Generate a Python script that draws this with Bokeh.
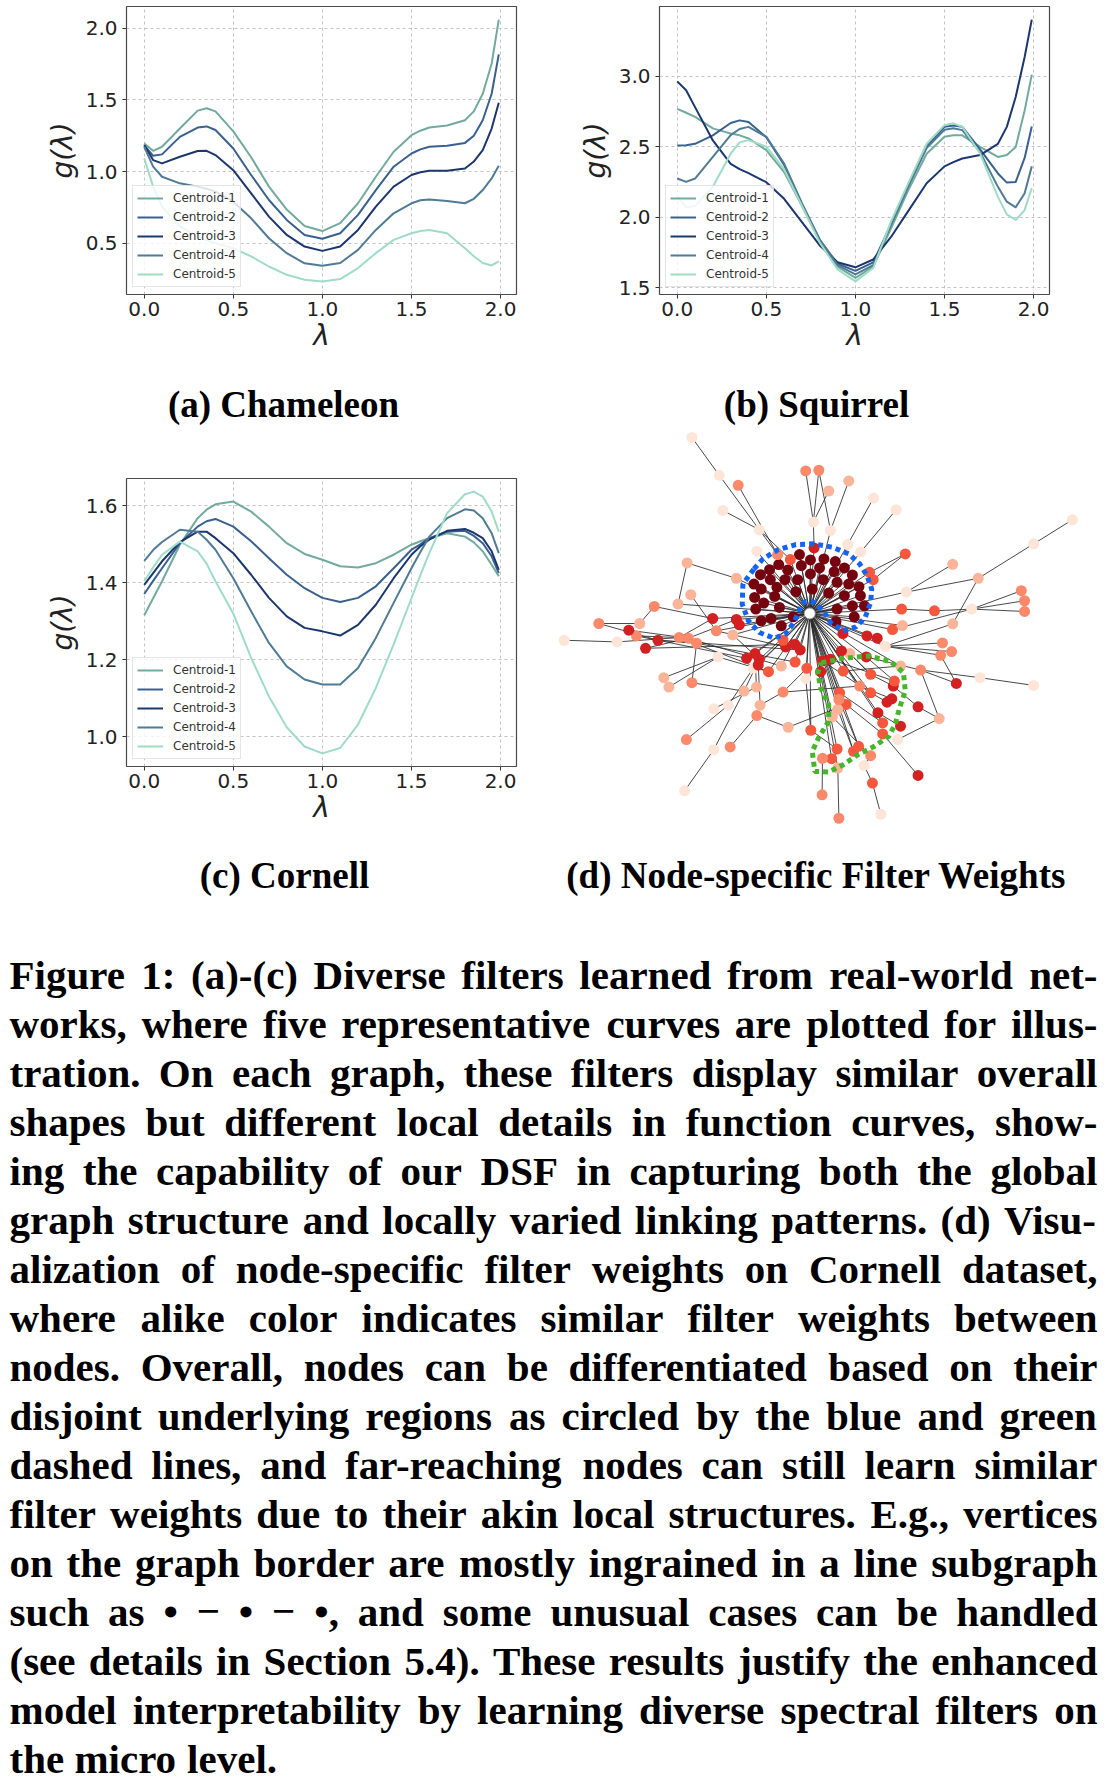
import numpy as np
from bokeh.plotting import figure
from bokeh.models import (Range1d, FixedTicker, PrintfTickFormatter, Legend,
                          LegendItem, ColumnDataSource)
from bokeh.layouts import column, row
from bokeh.core.properties import value
from bokeh.transform import linear_cmap
from bokeh.palettes import Reds256
from bokeh.embed import file_html
from bokeh.resources import INLINE

# ---------------- data: filter curves ----------------
LAM = [0, 0.05, 0.1, 0.2, 0.3, 0.35, 0.4, 0.5, 0.6, 0.7, 0.8, 0.9, 1.0, 1.1, 1.2,
       1.3, 1.4, 1.5, 1.55, 1.6, 1.7, 1.8, 1.85, 1.9, 1.95, 1.99]
LABELS = ["Centroid-1", "Centroid-2", "Centroid-3", "Centroid-4", "Centroid-5"]
COLORS = ["#72aa9e", "#38618f", "#1c3670", "#4f7b95", "#9edcc5"]

A_C1 = [1.196, 1.145, 1.173, 1.30, 1.425, 1.442, 1.420, 1.280, 1.100, 0.895, 0.735, 0.620, 0.585,
        0.640, 0.779, 0.964, 1.138, 1.254, 1.285, 1.307, 1.321, 1.358, 1.42, 1.543, 1.752, 2.06]
A_C2 = [1.184, 1.11, 1.12, 1.242, 1.307, 1.315, 1.29, 1.161, 0.976, 0.802, 0.663, 0.558, 0.531,
        0.57, 0.698, 0.871, 1.034, 1.126, 1.155, 1.173, 1.18, 1.20, 1.25, 1.358, 1.543, 1.817]
A_C3 = [1.184, 1.08, 1.057, 1.103, 1.143, 1.145, 1.115, 1.01, 0.848, 0.686, 0.558, 0.477, 0.447,
        0.477, 0.593, 0.756, 0.895, 0.976, 0.995, 1.006, 1.006, 1.022, 1.07, 1.15, 1.30, 1.48]
A_C4 = [1.173, 1.034, 0.964, 0.918, 0.895, 0.88, 0.86, 0.79, 0.674, 0.535, 0.431, 0.36, 0.343,
        0.362, 0.454, 0.593, 0.709, 0.779, 0.80, 0.806, 0.795, 0.779, 0.81, 0.871, 0.952, 1.04]
A_C5 = [1.092, 0.895, 0.755, 0.617, 0.547, 0.52, 0.50, 0.466, 0.408, 0.338, 0.28, 0.246, 0.234,
        0.25, 0.327, 0.431, 0.524, 0.57, 0.585, 0.593, 0.57, 0.466, 0.41, 0.362, 0.345, 0.373]

B_C1 = [2.768, 2.74, 2.711, 2.629, 2.593, 2.58, 2.558, 2.475, 2.32, 2.08, 1.83, 1.65, 1.57,
        1.65, 1.92, 2.20, 2.45, 2.57, 2.58, 2.58, 2.498, 2.427, 2.44, 2.498, 2.756, 3.01]
B_C2 = [2.508, 2.51, 2.52, 2.58, 2.667, 2.686, 2.674, 2.567, 2.37, 2.09, 1.84, 1.67, 1.62,
        1.68, 1.95, 2.23, 2.50, 2.64, 2.65, 2.64, 2.48, 2.31, 2.245, 2.25, 2.42, 2.643]
B_C3 = [2.962, 2.90, 2.78, 2.544, 2.378, 2.34, 2.312, 2.248, 2.13, 1.965, 1.80, 1.681, 1.645,
        1.70, 1.86, 2.05, 2.24, 2.36, 2.39, 2.416, 2.44, 2.52, 2.64, 2.853, 3.135, 3.40]
B_C4 = [2.274, 2.25, 2.274, 2.427, 2.581, 2.625, 2.64, 2.569, 2.38, 2.10, 1.84, 1.66, 1.595,
        1.66, 1.95, 2.23, 2.49, 2.62, 2.63, 2.617, 2.46, 2.215, 2.11, 2.07, 2.17, 2.36]
B_C5 = [2.15, 2.07, 2.08, 2.215, 2.45, 2.53, 2.546, 2.50, 2.34, 2.08, 1.82, 1.63, 1.545,
        1.64, 1.97, 2.25, 2.52, 2.652, 2.665, 2.64, 2.451, 2.144, 2.02, 1.98, 2.05, 2.206]

C_C1 = [1.316, 1.36, 1.404, 1.499, 1.568, 1.59, 1.604, 1.611, 1.585, 1.546, 1.503, 1.475, 1.46,
        1.443, 1.44, 1.451, 1.473, 1.499, 1.508, 1.516, 1.529, 1.52, 1.505, 1.482, 1.447, 1.417]
C_C2 = [1.371, 1.405, 1.438, 1.503, 1.546, 1.56, 1.566, 1.546, 1.508, 1.464, 1.421, 1.386, 1.361,
        1.35, 1.361, 1.391, 1.438, 1.486, 1.50, 1.516, 1.533, 1.535, 1.522, 1.503, 1.469, 1.425]
C_C3 = [1.395, 1.425, 1.456, 1.506, 1.533, 1.533, 1.516, 1.477, 1.421, 1.361, 1.313, 1.283, 1.274,
        1.263, 1.291, 1.343, 1.412, 1.473, 1.495, 1.512, 1.535, 1.54, 1.53, 1.516, 1.482, 1.434]
C_C4 = [1.457, 1.485, 1.506, 1.538, 1.533, 1.512, 1.486, 1.412, 1.326, 1.244, 1.183, 1.149, 1.136,
        1.136, 1.179, 1.257, 1.348, 1.438, 1.48, 1.52, 1.568, 1.591, 1.588, 1.568, 1.529, 1.477]
C_C5 = [1.404, 1.44, 1.473, 1.507, 1.482, 1.45, 1.404, 1.32, 1.205, 1.105, 1.025, 0.975, 0.957,
        0.971, 1.032, 1.127, 1.24, 1.36, 1.42, 1.477, 1.581, 1.63, 1.637, 1.624, 1.585, 1.533]

X_TICKS = [0.0, 0.5, 1.0, 1.5, 2.0]
A_YTICKS = [0.5, 1.0, 1.5, 2.0]
B_YTICKS = [1.5, 2.0, 2.5, 3.0]
C_YTICKS = [1.0, 1.2, 1.4, 1.6]

# ---------------- data: Cornell graph (layout units) ----------------
NODE_X = [738,
          710, 740, 777, 808, 653, 628, 603, 678, 715, 765, 833, 855, 805, 740, 630, 670, 705, 775,
          813, 845, 585, 605, 648, 745, 700, 790, 833, 873, 877, 587, 612, 642, 655, 590, 605, 632,
          660, 693, 810, 813, 855, 860, 888,
          415, 490, 542, 727, 763, 845, 790, 913, 975, 500, 600, 748, 795, 842, 878, 593,
          1458, 1352, 1000, 1130, 1200, 1003, 1318, 1327, 1327, 1182, 1080, 990, 965, 992, 1130,
          1102, 1127, 1097, 945, 1042, 1205, 1352, 1140, 1093, 1035, 987, 979, 1035, 910, 933,
          818, 772, 887, 905, 872, 858, 938, 938, 925, 950, 963, 967, 970, 905, 875, 838, 815,
          820, 818, 800, 813, 798, 773, 815, 741, 679, 665, 727, 730, 768, 830, 905, 987, 848,
          893, 773, 795, 698, 660, 625, 583, 592, 558, 602, 593, 515, 475, 400, 520, 475, 395,
          415, 338, 352, 487, 565, 588, 600, 597, 672, 697, 712, 665, 825, 895, 923, 829, 527,
          482, 472, 537, 545, 428, 405, 380, 322, 288, 263, 272, 242, 160, 65, 210, 312, 377,
          412, 402, 537, 902, 912, 650, 685, 750]
NODE_Y = [588,
          412, 428, 425, 433, 442, 457, 472, 458, 445, 452, 452, 473, 463, 470, 487, 487, 487, 487,
          495, 500, 500, 515, 510, 515, 523, 527, 535, 508, 535, 540, 557, 537, 570, 575, 610, 603,
          625, 598, 612, 575, 565, 598, 565,
          62, 175, 205, 162, 160, 192, 222, 243, 278, 280, 338, 315, 340, 382, 404, 402,
          308, 380, 410, 441, 483, 524, 520, 550, 582, 575, 580, 575, 636, 624, 619,
          676, 702, 713, 686, 757, 780, 803, 797, 902, 867, 925, 965, 1072, 1095, 1188,
          1200, 1130, 1042, 1013, 985, 1000, 948, 915, 885, 853, 843, 805, 790, 825, 805, 860, 875,
          825, 845, 897, 993, 1022, 1021, 1050, 937, 928, 823, 782, 752, 762, 760, 770, 745, 708,
          718, 730, 725, 733, 745, 762, 752, 808, 820, 862, 893, 862, 873, 965, 987, 995, 1118,
          795, 780, 808, 718, 722, 708, 725, 742, 688, 680, 697, 668, 700, 655, 662, 648, 652,
          640, 603, 606, 622, 677, 662, 660, 668, 692, 655, 618, 638, 618, 668, 673, 567, 560,
          532, 437, 483, 465, 487, 412, 427, 392]
NODE_W = [0.0,
          0.97, 0.97, 0.97, 0.97, 0.97, 0.97, 0.97, 0.97, 0.97, 0.97, 0.97, 0.97, 0.97, 0.97, 0.97,
          0.97, 0.97, 0.97, 0.97, 0.97, 0.97, 0.97, 0.97, 0.97, 0.97, 0.97, 0.97, 0.97, 0.97, 0.97,
          0.97, 0.97, 0.97, 0.97, 0.97, 0.97, 0.97, 0.97, 0.97, 0.97, 0.97, 0.97, 0.97,
          0.10, 0.10, 0.40, 0.40, 0.40, 0.27, 0.27, 0.10, 0.10, 0.10, 0.10, 0.10, 0.10, 0.10, 0.10, 0.10,
          0.10, 0.10, 0.55, 0.27, 0.27, 0.10, 0.40, 0.40, 0.40, 0.10, 0.55, 0.55, 0.55, 0.27, 0.27,
          0.40, 0.40, 0.40, 0.10, 0.40, 0.10, 0.10, 0.72, 0.27, 0.72, 0.72, 0.10, 0.72, 0.55, 0.10,
          0.40, 0.40, 0.10, 0.40, 0.55, 0.55, 0.55, 0.55, 0.72, 0.72, 0.72, 0.72, 0.55, 0.55, 0.40, 0.55, 0.27,
          0.55, 0.40, 0.27, 0.55, 0.55, 0.40, 0.27, 0.55, 0.27, 0.40, 0.10, 0.55, 0.72, 0.55, 0.55, 0.27, 0.27,
          0.72, 0.72, 0.72, 0.55, 0.27, 0.55, 0.10, 0.27, 0.27, 0.27, 0.40, 0.10, 0.10, 0.40, 0.40, 0.10, 0.10,
          0.40, 0.27, 0.27, 0.10, 0.72, 0.72, 0.72, 0.72, 0.72, 0.72, 0.72, 0.55, 0.72, 0.72, 0.72, 0.72, 0.27,
          0.40, 0.72, 0.72, 0.72, 0.40, 0.40, 0.40, 0.72, 0.72, 0.40, 0.27, 0.72, 0.40, 0.10, 0.10, 0.40, 0.27,
          0.27, 0.27, 0.27, 0.55, 0.55, 0.40, 0.55, 0.72]
HUB_NEIGHBORS = [1, 2, 3, 4, 5, 6, 7, 8, 9, 10, 11, 12, 13, 14, 15, 16, 17, 18, 19, 20, 21, 22,
                 23, 24, 25, 26, 27, 28, 29, 30, 31, 32, 33, 34, 35, 36, 37, 38, 39, 40, 41, 42, 43,
                 59, 180, 181, 182, 56, 57, 58, 65, 71, 72, 73, 78, 122, 178, 179, 117, 118, 119,
                 125, 126, 120, 104, 107, 108, 105, 106, 109, 110, 111, 113, 94, 95, 97, 98, 123,
                 124, 153, 121, 103, 114, 149, 150, 151, 152, 156, 154, 155, 145, 146, 147, 148,
                 127, 128, 129, 159, 160, 161, 157, 158, 177, 174]
OTHER_EDGES = [(44, 45), (45, 180), (46, 180), (53, 54), (54, 181), (47, 55), (48, 55), (50, 55),
               (48, 56), (49, 56), (55, 182), (51, 57), (52, 58), (60, 61), (61, 64), (64, 65),
               (63, 65), (64, 74), (66, 69), (67, 69), (68, 69), (69, 70), (70, 71), (69, 72),
               (62, 178), (62, 179), (74, 78), (75, 78), (76, 78), (77, 78), (79, 80), (80, 81),
               (79, 82), (79, 124), (79, 83), (84, 101), (86, 83), (85, 98), (87, 96), (88, 92),
               (89, 88), (90, 113), (91, 112), (92, 93), (123, 121), (124, 102), (121, 101),
               (103, 99), (104, 100), (107, 97), (105, 96), (106, 95), (108, 94), (109, 93),
               (114, 110), (115, 105), (116, 104), (117, 114), (118, 116), (120, 122), (126, 102),
               (125, 103), (171, 172), (172, 164), (170, 168), (170, 165), (169, 163), (166, 163),
               (167, 164), (168, 173), (173, 159), (174, 176), (176, 177), (175, 158), (162, 141),
               (163, 160), (164, 159), (165, 162), (162, 127), (163, 128), (164, 129), (165, 151),
               (166, 150), (167, 145), (142, 144), (143, 144), (144, 129), (141, 132), (137, 135),
               (135, 130), (140, 139), (139, 132), (138, 134), (136, 131), (131, 146), (132, 147),
               (133, 148), (134, 115), (130, 152), (133, 116), (157, 147), (158, 149), (84, 83),
               (82, 77)]
BLUE_X = [585, 610, 650, 700, 750, 800, 845, 875, 895, 908, 905, 890, 865, 830, 795, 775, 750,
          725, 710, 695, 670, 640, 600, 570, 553, 555, 585]
BLUE_Y = [455, 425, 398, 382, 380, 390, 410, 440, 475, 515, 555, 600, 628, 640, 615, 580, 555,
          552, 575, 615, 650, 662, 645, 610, 560, 500, 455]
GREEN_X = [770, 830, 900, 960, 995, 1000, 985, 972, 955, 915, 870, 830, 790, 752, 745, 762, 790,
           790, 768, 760, 770]
GREEN_Y = [735, 722, 715, 732, 765, 820, 868, 920, 955, 985, 1010, 1040, 1062, 1060, 1000, 960,
           910, 860, 810, 765, 735]

# ---------------- text ----------------
SUBCAPS_TOP = ["(a) Chameleon", "(b) Squirrel"]
SUBCAPS_BOT = ["(c) Cornell", "(d) Node-specific Filter Weights"]
BODY = [
    "Figure 1: (a)-(c) Diverse filters learned from real-world net-",
    "works, where five representative curves are plotted for illus-",
    "tration. On each graph, these filters display similar overall",
    "shapes but different local details in function curves, show-",
    "ing the capability of our DSF in capturing both the global",
    "graph structure and locally varied linking patterns. (d) Visu-",
    "alization of node-specific filter weights on Cornell dataset,",
    "where alike color indicates similar filter weights between",
    "nodes. Overall, nodes can be differentiated based on their",
    "disjoint underlying regions as circled by the blue and green",
    "dashed lines, and far-reaching nodes can still learn similar",
    "filter weights due to their akin local structures. E.g., vertices",
    "on the graph border are mostly ingrained in a line subgraph",
    "such as \u2022 \u2212 \u2022 \u2212 \u2022, and some unusual cases can be handled",
    "(see details in Section 5.4). These results justify the enhanced",
    "model interpretability by learning diverse spectral filters on",
    "the micro level.",
]

# Times-Bold advance widths (1/1000 em), used to justify lines
TB = {' ': 250, '!': 333, '(': 333, ')': 333, ',': 250, '-': 333, '.': 250, ':': 333, ';': 333,
      '0': 500, '1': 500, '2': 500, '3': 500, '4': 500, '5': 500, '6': 500, '7': 500, '8': 500,
      '9': 500, 'A': 722, 'B': 667, 'C': 722, 'D': 722, 'E': 667, 'F': 611, 'G': 778, 'H': 778,
      'I': 389, 'J': 500, 'K': 778, 'L': 667, 'M': 944, 'N': 722, 'O': 778, 'P': 611, 'Q': 778,
      'R': 722, 'S': 556, 'T': 667, 'U': 722, 'V': 722, 'W': 1000, 'X': 722, 'Y': 722, 'Z': 667,
      'a': 500, 'b': 556, 'c': 444, 'd': 556, 'e': 444, 'f': 333, 'g': 500, 'h': 556, 'i': 278,
      'j': 333, 'k': 556, 'l': 278, 'm': 833, 'n': 556, 'o': 500, 'p': 556, 'q': 556, 'r': 444,
      's': 389, 't': 333, 'u': 556, 'v': 500, 'w': 722, 'x': 500, 'y': 500, 'z': 444,
      '\u2022': 350, '\u2212': 570}

SERIF = "Liberation Serif"
SANS = "DejaVu Sans"
W = 1112


def no_align(p):
    try:
        p.frame_align = False
    except Exception:
        pass
    return p


def curve_panel(series, yticks, height, b_left, b_right, b_top, b_bottom):
    allv = np.concatenate([np.asarray(s, float) for s in series])
    lo, hi = allv.min(), allv.max()
    m = 0.05 * (hi - lo)
    xl, xh = min(LAM), max(LAM)
    xm = 0.05 * (xh - xl)
    p = figure(width=556, height=height, output_backend="svg", toolbar_location=None,
               x_range=Range1d(xl - xm, xh + xm), y_range=Range1d(lo - m, hi + m),
               min_border_left=b_left, min_border_right=b_right,
               min_border_top=b_top, min_border_bottom=b_bottom)
    no_align(p)
    p.xaxis.ticker = FixedTicker(ticks=X_TICKS)
    p.yaxis.ticker = FixedTicker(ticks=yticks)
    p.xaxis.formatter = PrintfTickFormatter(format="%.1f")
    p.yaxis.formatter = PrintfTickFormatter(format="%.1f")
    for ax in (p.xaxis[0], p.yaxis[0]):
        ax.major_label_text_font = SANS
        ax.major_label_text_font_size = "20px"
        ax.major_label_text_color = "#222222"
        ax.major_tick_out = 4
        ax.major_tick_in = 0
        ax.minor_tick_out = 0
        ax.minor_tick_in = 0
        ax.major_tick_line_color = "#333333"
        ax.axis_line_color = None
        ax.axis_label_text_font = SANS
        ax.axis_label_text_font_style = "italic"
        ax.axis_label_text_font_size = "28px"
        ax.axis_label_text_color = "#222222"
    p.xaxis.axis_label = "\u03bb"
    p.yaxis.axis_label = "g(\u03bb)"
    p.xaxis.major_label_standoff = 3
    p.yaxis.major_label_standoff = 5
    p.xaxis.axis_label_standoff = 0
    p.yaxis.axis_label_standoff = 4
    p.grid.grid_line_color = "#c4c4c4"
    p.grid.grid_line_dash = "3 3"
    p.grid.grid_line_width = 1
    p.outline_line_color = "#4a4a4a"
    p.outline_line_width = 1.2
    items = []
    for s, c, lab in zip(series, COLORS, LABELS):
        r = p.line(LAM, s, line_color=c, line_width=2, line_join="round")
        items.append(LegendItem(label=lab, renderers=[r]))
    leg = Legend(items=items, location=(6, 7), label_text_font=SANS,
                 label_text_font_size="12px", label_text_color="#333333",
                 glyph_width=26, glyph_height=16, label_height=16, label_standoff=10,
                 spacing=3, padding=4, margin=0, border_line_color="#cccccc",
                 border_line_width=1, background_fill_alpha=0.8)
    p.add_layout(leg)
    return p


def text_fig(height):
    p = figure(width=W, height=height, output_backend="svg", toolbar_location=None,
               x_range=Range1d(0, W), y_range=Range1d(height, 0),
               x_axis_location=None, y_axis_location=None, min_border=0)
    no_align(p)
    p.grid.visible = False
    p.outline_line_color = None
    return p


def em(s):
    return sum(TB.get(ch, 500) for ch in s) / 1000.0


# ---- row 1: (a) and (b)
fa = curve_panel([A_C1, A_C2, A_C3, A_C4, A_C5], A_YTICKS, 365, 126, 40, 6, 71)
fb = curve_panel([B_C1, B_C2, B_C3, B_C4, B_C5], B_YTICKS, 365, 103, 63, 6, 71)

# ---- caption row 1
cap1 = text_fig(65)
cap1.text(x=[283, 816], y=[39, 39], text=SUBCAPS_TOP, text_font=value(SERIF),
          text_font_style="bold", text_font_size="37px", text_align="center",
          text_baseline="alphabetic", text_color="black")

# ---- row 2: (c) and graph (d)
fc = curve_panel([C_C1, C_C2, C_C3, C_C4, C_C5], C_YTICKS, 400, 126, 40, 48, 64)

fd = figure(width=556, height=400, output_backend="svg", toolbar_location=None,
            x_range=Range1d(43.9, 1568), y_range=Range1d(1236.6, 41.2),
            x_axis_location=None, y_axis_location=None, min_border=0)
no_align(fd)
fd.grid.visible = False
fd.outline_line_color = None
gx = np.asarray(NODE_X, float)
gy = np.asarray(NODE_Y, float)
ea = [0] * len(HUB_NEIGHBORS) + [a for a, b in OTHER_EDGES]
eb = list(HUB_NEIGHBORS) + [b for a, b in OTHER_EDGES]
fd.segment(x0=gx[ea], y0=gy[ea], x1=gx[eb], y1=gy[eb], line_color="#2a2a2a",
           line_width=1.0, line_alpha=0.85)
nsrc = ColumnDataSource(dict(x=NODE_X[1:], y=NODE_Y[1:], w=NODE_W[1:]))
fd.scatter("x", "y", source=nsrc, size=11, line_color=None,
           fill_color=linear_cmap("w", list(reversed(Reds256)), 0, 1))
fd.scatter([NODE_X[0]], [NODE_Y[0]], size=11, fill_color="#ffffff", line_color="#9a9a9a",
           line_width=1)
fd.line(BLUE_X, BLUE_Y, line_color="#1464f4", line_width=5, line_dash="5 4")
fd.line(GREEN_X, GREEN_Y, line_color="#45b52a", line_width=5, line_dash="5 4")

# ---- bottom: subcaptions (c)/(d) and the figure caption
BODY_H = 956
body = text_fig(BODY_H)
body.text(x=[284, 816], y=[45, 45], text=SUBCAPS_BOT, text_font=value(SERIF),
          text_font_style="bold", text_font_size="37px", text_align="center",
          text_baseline="alphabetic", text_color="black")

FS = 41
LEFT, RIGHT = 9, 1097
BASE0, LEAD = 144, 49.0
wx, wy, wt = [], [], []
for i, line in enumerate(BODY):
    words = line.split(" ")
    widths = [em(wd) * FS for wd in words]
    last = (i == len(BODY) - 1)
    if last or len(words) < 2:
        gap = TB[' '] / 1000.0 * FS
    else:
        gap = (RIGHT - LEFT - sum(widths)) / (len(words) - 1)
    x = LEFT
    for wd, wdt in zip(words, widths):
        wx.append(x)
        wy.append(BASE0 + i * LEAD)
        wt.append(wd)
        x += wdt + gap
body.text(x=wx, y=wy, text=wt, text_font=value(SERIF), text_font_style="bold",
          text_font_size=f"{FS}px", text_align="left", text_baseline="alphabetic",
          text_color="black")

layout = column(row(fa, fb), cap1, row(fc, fd), body)
open("out.html", "w").write(file_html(layout, INLINE, title="Figure 1"))
